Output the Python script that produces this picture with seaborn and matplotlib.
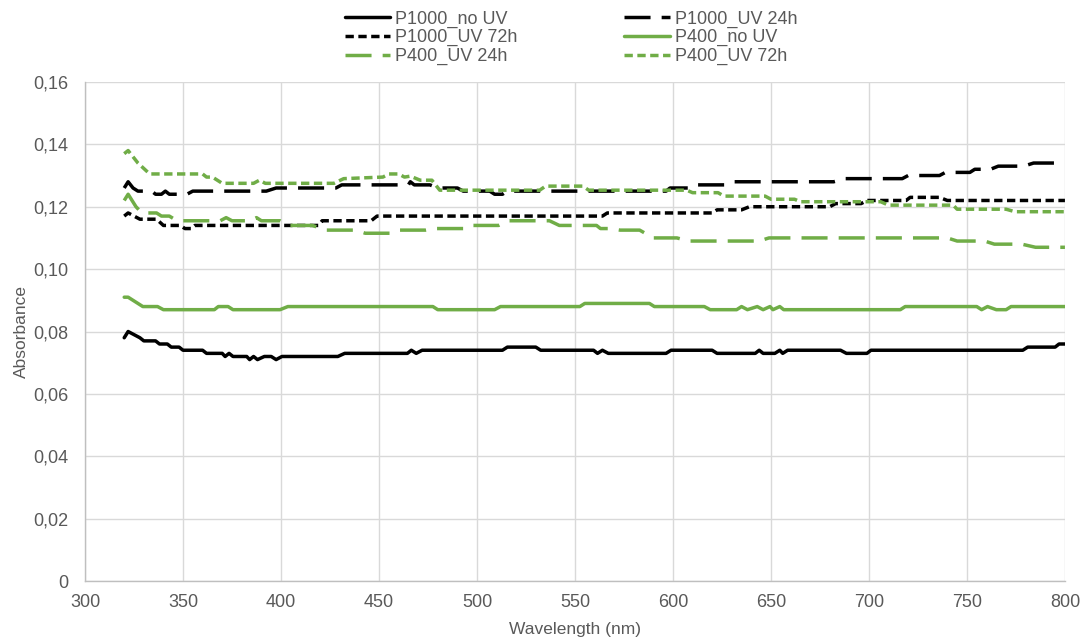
import matplotlib
matplotlib.use("Agg")
import matplotlib.pyplot as plt
import pandas as pd
import seaborn as sns

# Absorbance spectra, (wavelength nm, absorbance)
p1000_no_uv = [(320, 0.078), (322, 0.080), (325, 0.079), (328, 0.078), (330, 0.077),
               (336, 0.077), (338, 0.076), (342, 0.076), (344, 0.075), (348, 0.075),
               (350, 0.074), (360, 0.074), (362, 0.073), (370, 0.073), (371.5, 0.072),
               (373.5, 0.073), (375.5, 0.072), (382.5, 0.072), (384, 0.071), (386, 0.072),
               (388, 0.071), (391.5, 0.072), (395, 0.072), (397.5, 0.071), (400.5, 0.072),
               (429, 0.072), (432.5, 0.073), (464.5, 0.073), (466.5, 0.074), (469, 0.073),
               (472, 0.074), (513, 0.074), (515.5, 0.075), (530, 0.075), (532.5, 0.074),
               (559.5, 0.074), (561.5, 0.073), (564, 0.074), (567, 0.073), (596.5, 0.073),
               (599, 0.074), (620, 0.074), (622.5, 0.073), (642, 0.073), (644, 0.074),
               (646, 0.073), (652, 0.073), (654.5, 0.074), (656, 0.073), (658.5, 0.074),
               (685.5, 0.074), (688.5, 0.073), (699, 0.073), (701, 0.074), (778.5, 0.074),
               (781, 0.075), (795, 0.075), (797, 0.076), (800, 0.076)]

p1000_uv_24h = [(320, 0.126), (322, 0.128), (324.5, 0.126), (327, 0.125), (334, 0.125),
                (336, 0.124), (339, 0.124), (341, 0.125), (343, 0.124), (352, 0.124),
                (355, 0.125), (392.5, 0.125), (397.5, 0.126), (428, 0.126), (431, 0.127),
                (465, 0.127), (466, 0.128), (468, 0.127), (476, 0.127), (480, 0.126),
                (490, 0.126), (493, 0.125), (506.5, 0.125), (509, 0.124), (513, 0.124),
                (515.5, 0.125), (596.5, 0.125), (598.5, 0.126), (609, 0.126), (612, 0.127),
                (627, 0.127), (631, 0.128), (682, 0.128), (688, 0.129), (717, 0.129),
                (720, 0.130), (736, 0.130), (739, 0.131), (751.5, 0.131), (754, 0.132),
                (762, 0.132), (766, 0.133), (779, 0.133), (784, 0.134), (800, 0.134)]

p1000_uv_72h = [(320, 0.117), (322, 0.118), (325, 0.117), (328, 0.116), (336.5, 0.116),
                (340, 0.114), (348.5, 0.114), (351, 0.113), (354, 0.113), (356, 0.114),
                (419, 0.114), (421, 0.1155), (446, 0.1155), (449, 0.117), (564, 0.117),
                (566.5, 0.118), (620, 0.118), (622.5, 0.119), (635, 0.119), (639, 0.120),
                (680, 0.120), (683, 0.121), (696, 0.121), (699, 0.122), (719, 0.122),
                (721, 0.123), (736, 0.123), (740, 0.122), (800, 0.122)]

p400_no_uv = [(320, 0.091), (322, 0.091), (324.5, 0.090), (327, 0.089), (329.5, 0.088),
              (337, 0.088), (340, 0.087), (366, 0.087), (368, 0.088), (373, 0.088),
              (375.5, 0.087), (399.5, 0.087), (403.5, 0.088), (477.5, 0.088), (480, 0.087),
              (509, 0.087), (512, 0.088), (552.5, 0.088), (555, 0.089), (588, 0.089),
              (590.5, 0.088), (616, 0.088), (619, 0.087), (632.5, 0.087), (635, 0.088),
              (638, 0.087), (643, 0.088), (646, 0.087), (649.5, 0.088), (651, 0.087),
              (654.5, 0.088), (656.5, 0.087), (716, 0.087), (718.5, 0.088), (755, 0.088),
              (757.5, 0.087), (760.5, 0.088), (765, 0.087), (770, 0.087), (772.5, 0.088),
              (800, 0.088)]

p400_uv_24h = [(320, 0.122), (322, 0.124), (326, 0.120), (329, 0.118), (336.5, 0.118),
               (339, 0.117), (343, 0.117), (347, 0.1155), (369, 0.1155), (372, 0.1165),
               (375, 0.1155), (384, 0.1155), (387.5, 0.1165), (390, 0.1155), (399.5, 0.1155),
               (404, 0.114), (416, 0.114), (423, 0.1125), (438, 0.1125), (443, 0.1115),
               (456, 0.1115), (460, 0.1125), (474, 0.1125), (479, 0.113), (494, 0.113),
               (497, 0.114), (511, 0.114), (516, 0.1155), (537, 0.1155), (542, 0.114),
               (561, 0.114), (563, 0.113), (568, 0.113), (573, 0.1125), (583, 0.1125),
               (590, 0.110), (602, 0.110), (608, 0.109), (644, 0.109), (649, 0.110),
               (740, 0.110), (745, 0.109), (759, 0.109), (764, 0.108), (778, 0.108),
               (785, 0.107), (800, 0.107)]

p400_uv_72h = [(320, 0.137), (322, 0.138), (327, 0.134), (333, 0.1305), (360, 0.1305),
               (362, 0.1295), (365, 0.1295), (370, 0.1275), (386, 0.1275), (389, 0.1285),
               (392, 0.1275), (427, 0.1275), (432, 0.129), (452, 0.1295), (455, 0.1305),
               (460, 0.1305), (463, 0.1295), (466, 0.1298), (471, 0.1285), (477, 0.1285),
               (481, 0.1253), (532, 0.1253), (535, 0.1266), (554, 0.1266), (557, 0.1253),
               (607, 0.1253), (610, 0.1245), (623, 0.1245), (626, 0.1234), (647, 0.1234),
               (650, 0.1224), (662, 0.1224), (665, 0.1216), (706, 0.1216), (710, 0.1205),
               (743, 0.1205), (745, 0.1192), (770, 0.1192), (774.5, 0.1184), (800, 0.1184)]

series_names = ["P1000_no UV", "P1000_UV 24h", "P1000_UV 72h",
                "P400_no UV", "P400_UV 24h", "P400_UV 72h"]
series_data = [p1000_no_uv, p1000_uv_24h, p1000_uv_72h,
               p400_no_uv, p400_uv_24h, p400_uv_72h]

y_ticks = [0, 0.02, 0.04, 0.06, 0.08, 0.10, 0.12, 0.14, 0.16]
x_ticks = [300, 350, 400, 450, 500, 550, 600, 650, 700, 750, 800]

BLACK = "#000000"
GREEN = "#70ad47"
solid = "-"
long_dash = (0, (7.5, 3.2))
short_dash = (0, (2.4, 1.3))
styles = [(BLACK, solid), (BLACK, long_dash), (BLACK, short_dash),
          (GREEN, solid), (GREEN, long_dash), (GREEN, short_dash)]

sns.set_style("white")
plt.rcParams["font.family"] = ["Liberation Sans", "DejaVu Sans"]

fig = plt.figure(figsize=(10.9, 6.4), dpi=100)
ax = fig.add_axes([0.078, 0.092, 0.899, 0.780])

for name, data, (color, ls) in zip(series_names, series_data, styles):
    df = pd.DataFrame(data, columns=["wl", "abs"])
    sns.lineplot(data=df, x="wl", y="abs", ax=ax, color=color, linestyle=ls,
                 linewidth=2.5, label=name, estimator=None)

ax.set_xlim(300, 800)
ax.set_ylim(0, 0.16)
ax.set_xticks(x_ticks)
ax.set_yticks(y_ticks)
ax.set_yticklabels(["0" if v == 0 else f"{v:.2f}".replace(".", ",") for v in y_ticks])
ax.grid(True, color="#d9d9d9", linewidth=1)
ax.set_axisbelow(True)
for side in ["top", "right"]:
    ax.spines[side].set_visible(False)
for side in ["left", "bottom"]:
    ax.spines[side].set_color("#bfbfbf")
    ax.spines[side].set_linewidth(1)
ax.tick_params(axis="both", length=0, labelsize=13, labelcolor="#595959")
ax.tick_params(axis="y", pad=12)
ax.tick_params(axis="x", pad=9)
ax.set_xlabel("Wavelength (nm)", fontsize=12.5, color="#595959", labelpad=8)
ax.set_ylabel("Absorbance", fontsize=12.5, color="#595959", labelpad=3)

# legend in two columns, filled row by row like the original
handles, labels = ax.get_legend_handles_labels()
order = [0, 2, 4, 1, 3, 5]
ax.get_legend().remove()
fig.legend([handles[i] for i in order], [labels[i] for i in order],
           loc="upper center", bbox_to_anchor=(0.524, 1.006), ncol=2, frameon=False,
           fontsize=13, labelcolor="#595959", handlelength=2.5, handletextpad=0.3,
           columnspacing=5.9, labelspacing=0.08, borderpad=0.3)

fig.savefig("out.png", dpi=100)
